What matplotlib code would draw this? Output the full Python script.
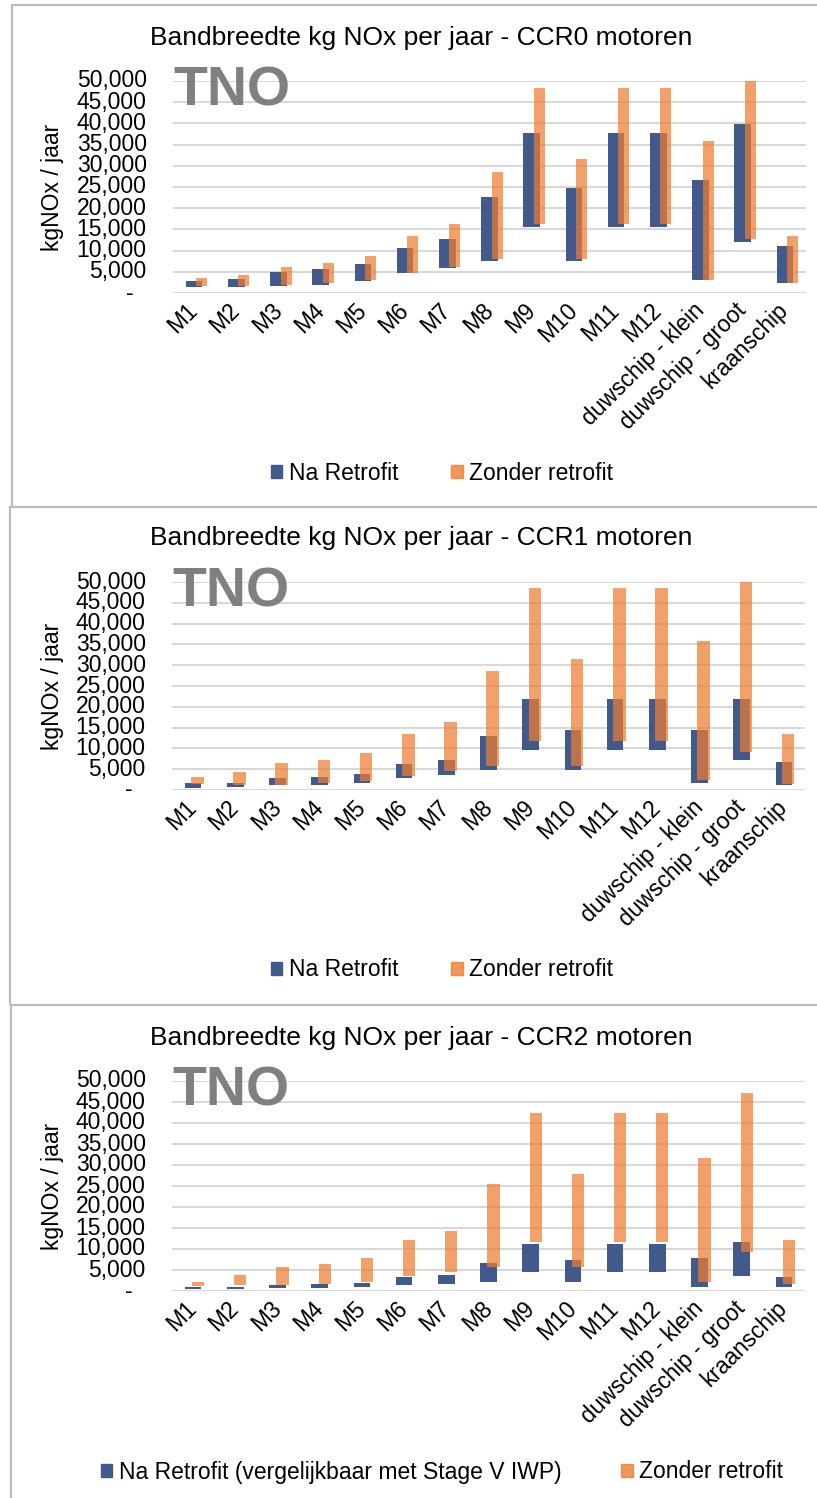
import numpy as np
import matplotlib
matplotlib.use("Agg")
import matplotlib.pyplot as plt
from matplotlib.lines import Line2D
from matplotlib.patches import Patch
from matplotlib.ticker import FuncFormatter

plt.rcParams["font.family"] = ["Liberation Sans", "DejaVu Sans"]

categories = ["M1", "M2", "M3", "M4", "M5", "M6", "M7", "M8", "M9", "M10",
              "M11", "M12", "duwschip - klein", "duwschip - groot", "kraanschip"]

# CCR0
ccr0_na_lo = [1300, 1500, 1700, 2000, 2800, 4600, 5800, 7600, 15500, 7600, 15500, 15500, 3000, 12000, 2300]
ccr0_na_hi = [2800, 3200, 5000, 5600, 6800, 10600, 12700, 22600, 37800, 24800, 37800, 37800, 26600, 39800, 11200]
ccr0_zo_lo = [1700, 1700, 1800, 2300, 3100, 4800, 6100, 8100, 16200, 8100, 16200, 16200, 3100, 12700, 2300]
ccr0_zo_hi = [3500, 4200, 6200, 7000, 8800, 13400, 16200, 28600, 48400, 31700, 48400, 48400, 35900, 50000, 13400]

# CCR1
ccr1_na_lo = [550, 700, 1100, 1300, 1800, 3000, 3700, 4700, 9700, 4700, 9700, 9700, 1800, 7300, 1300]
ccr1_na_hi = [1600, 1800, 2800, 3100, 3900, 6200, 7300, 13100, 21900, 14500, 21900, 21900, 14500, 21900, 6700]
ccr1_zo_lo = [1500, 1300, 1300, 1700, 2100, 3300, 4500, 5700, 11700, 5700, 11700, 11700, 2300, 9100, 1500]
ccr1_zo_hi = [3100, 4300, 6500, 7200, 9000, 13400, 16300, 28700, 48600, 31500, 48600, 48600, 35900, 50100, 13400]

# CCR2
ccr2_na_lo = [400, 400, 600, 600, 900, 1400, 1700, 2200, 4600, 2200, 4600, 4600, 1000, 3600, 900]
ccr2_na_hi = [1000, 1000, 1400, 1700, 2000, 3300, 3800, 6600, 11200, 7400, 11200, 11200, 7900, 11700, 3300]
ccr2_zo_lo = [1200, 1400, 1400, 1700, 2200, 3600, 4600, 5800, 11700, 5800, 11700, 11700, 2200, 9200, 1700]
ccr2_zo_hi = [2200, 3700, 5800, 6400, 7900, 12100, 14300, 25400, 42500, 27900, 42500, 42500, 31700, 47100, 12100]

titles = ["Bandbreedte kg NOx per jaar - CCR0 motoren",
          "Bandbreedte kg NOx per jaar - CCR1 motoren",
          "Bandbreedte kg NOx per jaar - CCR2 motoren"]
legend_na = ["Na Retrofit", "Na Retrofit", "Na Retrofit (vergelijkbaar met Stage V IWP)"]
legend_zo = "Zonder retrofit"
yticks = [0, 5000, 10000, 15000, 20000, 25000, 30000, 35000, 40000, 45000, 50000]

BLUE = "#41598B"
ORANGE = "#ED7D31"
GRID = "#D4D4D4"
BORDER = "#BDBDBD"

W, H = 817, 1498
fig = plt.figure(figsize=(W / 100, H / 100), dpi=100)


def fx(px):
    return px / W


def fy(py):
    return 1 - py / H


# panel borders
for x0, y_top, y_bot in [(12, 5, 506), (10, 507, 1004), (11, 1005, 1500)]:
    fig.add_artist(Line2D([fx(x0), 1], [fy(y_top), fy(y_top)], color=BORDER, lw=1.6))
    fig.add_artist(Line2D([fx(x0), fx(x0)], [fy(y_top), fy(y_bot)], color=BORDER, lw=1.6))

panels = [
    dict(box=(173, 806, 81, 293), na=(ccr0_na_lo, ccr0_na_hi), zo=(ccr0_zo_lo, ccr0_zo_hi),
         zo_w=0.26, zo_off=0.18, title_y=38, leg_y=473, leg_x=442, colsp=2.3),
    dict(box=(172, 805, 582, 790), na=(ccr1_na_lo, ccr1_na_hi), zo=(ccr1_zo_lo, ccr1_zo_hi),
         zo_w=0.30, zo_off=0.10, title_y=538, leg_y=970, leg_x=442, colsp=2.3),
    dict(box=(172, 805, 1081, 1291), na=(ccr2_na_lo, ccr2_na_hi), zo=(ccr2_zo_lo, ccr2_zo_hi),
         zo_w=0.29, zo_off=0.12, title_y=1038, leg_y=1472, leg_x=442, colsp=2.6),
]

x = np.arange(len(categories))
fmt = FuncFormatter(lambda v, p: "-  " if v == 0 else f"{int(v):,}")

for i, p in enumerate(panels):
    l, r, t, b = p["box"]
    ax = fig.add_axes([fx(l), fy(b), (r - l) / W, (b - t) / H])
    na_lo, na_hi = np.array(p["na"][0]), np.array(p["na"][1])
    zo_lo, zo_hi = np.array(p["zo"][0]), np.array(p["zo"][1])
    ax.bar(x, na_hi - na_lo, bottom=na_lo, width=0.39, color=BLUE, zorder=3, clip_on=False)
    ax.bar(x + p["zo_off"], zo_hi - zo_lo, bottom=zo_lo, width=p["zo_w"], color=ORANGE,
           alpha=0.72, zorder=4, clip_on=False)
    ax.set_xlim(-0.5, len(categories) - 0.5)
    ax.set_ylim(0, 50000)
    ax.set_yticks(yticks)
    ax.yaxis.set_major_formatter(fmt)
    ax.grid(axis="y", color=GRID, lw=1.3, zorder=0)
    ax.set_axisbelow(True)
    for s in ax.spines.values():
        s.set_visible(False)
    ax.tick_params(axis="y", length=0, pad=19, labelsize=16.5)
    ax.tick_params(axis="x", length=0, pad=10)
    ax.set_xticks(x)
    ax.set_xticklabels(categories, rotation=45, ha="right", va="center",
                       rotation_mode="anchor", fontsize=16.5)
    for lab in ax.get_yticklabels():
        lab.set_verticalalignment("center")

    # TNO logo
    ax.text(0.0, 1.075, "TNO", transform=ax.transAxes, fontsize=40, fontweight="bold",
            color="#808080", ha="left", va="top", zorder=5)

    fig.text(fx(421), fy(p["title_y"]), titles[i], fontsize=19, ha="center", va="center")
    fig.text(fx(53), fy((t + b) / 2), "kgNOx / jaar", fontsize=16.5, rotation=90,
             ha="center", va="center")

    handles = [Patch(color=BLUE), Patch(color=ORANGE, alpha=0.8)]
    fig.legend(handles, [legend_na[i], legend_zo], loc="center",
               bbox_to_anchor=(fx(p["leg_x"]), fy(p["leg_y"])), ncol=2, frameon=False,
               fontsize=16.5, handlelength=0.5, handleheight=0.5, handletextpad=0.3,
               columnspacing=p["colsp"])

fig.savefig("out.png", dpi=100)
